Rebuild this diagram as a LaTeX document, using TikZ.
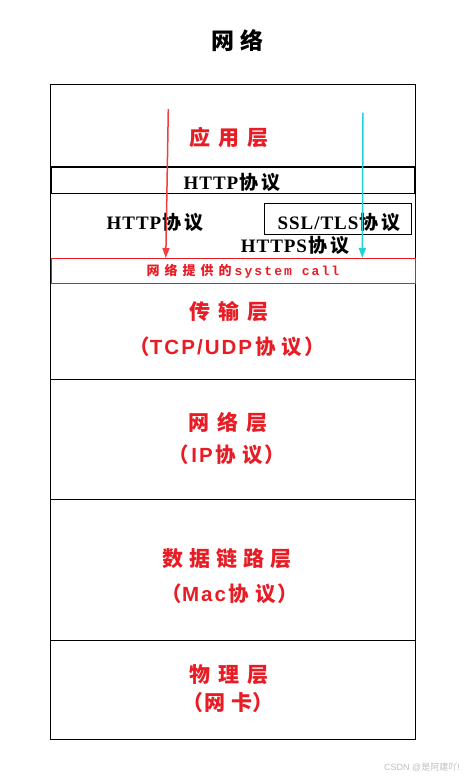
\documentclass[tikz,border=0pt]{standalone}
\usepackage{fontspec}
\setmainfont{Liberation Serif}
\setsansfont{Liberation Sans}
\setmonofont{Liberation Mono}
\newfontfamily\cjk{Noto Sans CJK SC}
\usetikzlibrary{arrows.meta}
\definecolor{lred}{RGB}{232,28,36}
\definecolor{arrred}{RGB}{242,62,62}
\definecolor{arrcyan}{RGB}{32,212,214}
\newcommand{\gp}[1]{\hspace{#1}}
\begin{document}
\begin{tikzpicture}[x=1pt,y=-1pt,
  layer/.style={text=lred,font=\cjk\bfseries\fontsize{21}{24}\selectfont,inner sep=0pt,anchor=center},
  proto/.style={text=lred,font=\sffamily\bfseries\fontsize{20.5}{24}\selectfont\addfontfeature{LetterSpace=10},inner sep=0pt,anchor=center},
  blk/.style={text=black,font=\bfseries\fontsize{19}{21}\selectfont\addfontfeature{LetterSpace=5},inner sep=0pt,anchor=center},
  frame/.style={draw=black,line width=1pt},
]
\useasboundingbox (0,0) rectangle (465,780);
% title
\node[inner sep=0pt,font=\cjk\bfseries\fontsize{23}{26}\selectfont] (title) at (237.5,41) {网\gp{6pt}络};
% main frame
\draw[frame] (50,84) rectangle (415.5,739);
\draw[frame] (50,379) -- (415.5,379);
\draw[frame] (50,499.5) -- (415.5,499.5);
\draw[frame] (50,640.5) -- (415.5,640.5);
% HTTP box
\draw[draw=black,line width=1.3pt] (51,167) rectangle (415,193.5);
% red system call box
\draw[draw=lred,line width=1pt] (51,258.5) rectangle (415,283.5);
% SSL box
\draw[draw=black,line width=1pt] (264,203.5) rectangle (411,234);
% texts
\node[layer] (app) at (229,137) {应\gp{8pt}用\gp{8pt}层};
\node[blk] (http1) at (232,182) {HTTP{\cjk\gp{1pt}协\gp{3pt}议}};
\node[blk] (http2) at (155,222) {HTTP{\cjk\gp{1pt}协\gp{3pt}议}};
\node[blk] (ssl) at (339,222) {SSL/TLS{\cjk\gp{1pt}协\gp{3pt}议}};
\node[blk] (https) at (295,245) {HTTPS{\cjk\gp{1pt}协\gp{3pt}议}};
\node[inner sep=0pt,text=lred,font=\ttfamily\bfseries\fontsize{13}{14}\selectfont\addfontfeature{LetterSpace=16}] (sys) at (243,271)
  {{\cjk\bfseries 网\gp{5pt}络\gp{5pt}提\gp{5pt}供\gp{5pt}的\gp{3pt}}system call};
\node[layer] (trans) at (229,312) {传\gp{8pt}输\gp{8pt}层};
\node[proto] (tcp) at (227,347) {{\cjk （}TCP/UDP{\cjk\bfseries\gp{3pt}协\gp{6pt}议\gp{2pt}）}};
\node[layer] (net) at (228,422) {网\gp{8pt}络\gp{8pt}层};
\node[proto] (ip) at (227,455) {{\cjk （\gp{2pt}}IP{\cjk\bfseries\gp{3pt}协\gp{6pt}议\gp{2pt}）}};
\node[layer] (link) at (227,559) {数\gp{6pt}据\gp{6pt}链\gp{6pt}路\gp{6pt}层};
\node[proto] (mac) at (230,594) {{\cjk （}Mac{\cjk\bfseries\gp{3pt}协\gp{6pt}议\gp{2pt}）}};
\node[layer] (phy) at (229,675) {物\gp{8pt}理\gp{8pt}层};
\node[layer] (nic) at (228,703) {（\gp{2pt}网\gp{6pt}卡）};
% arrows
\coordinate (ra) at (168.3,109);
\coordinate (rb) at (165.8,258);
\coordinate (ca) at (363,112.5);
\coordinate (cb) at (362.3,258);
\draw[arrred,line width=1.5pt,-{Triangle[length=10pt,width=7pt]}] (ra) -- (rb);
\draw[arrcyan,line width=1.5pt,-{Triangle[length=10pt,width=7pt]}] (ca) -- (cb);
% watermark
\node[inner sep=0pt,text=black!25,font=\sffamily\fontsize{9}{10}\selectfont] (wm) at (422,767) {CSDN @{\cjk 是阿建吖}!};
\end{tikzpicture}
\end{document}
